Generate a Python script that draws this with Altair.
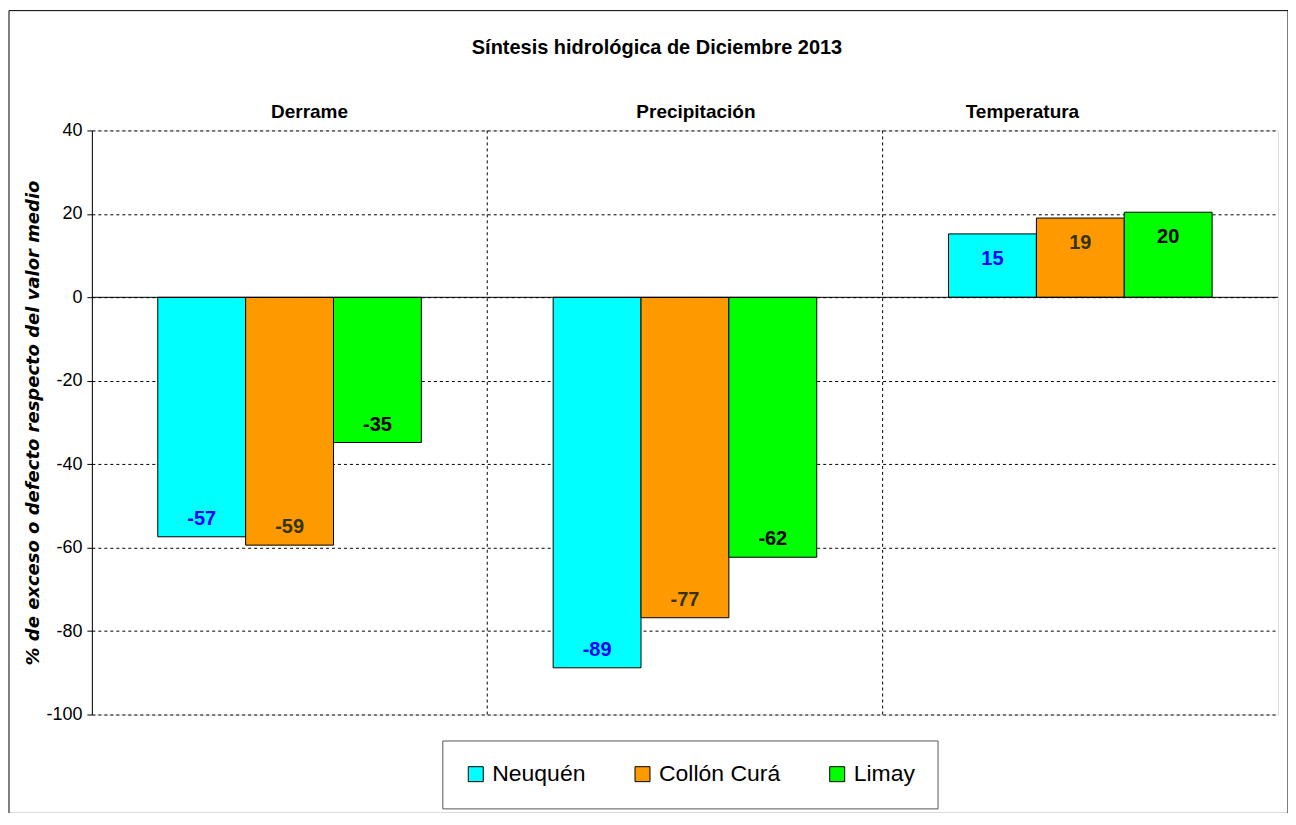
import altair as alt
import pandas as pd

categories = ["Derrame", "Precipitación", "Temperatura"]
series = ["Neuquén", "Collón Curá", "Limay"]
neuquen = [-57.4, -88.8, 15.2]
collon_cura = [-59.4, -76.8, 19.0]
limay = [-34.8, -62.3, 20.4]
y_ticks = [-100, -80, -60, -40, -20, 0, 20, 40]
chart_title = "Síntesis hidrológica de Diciembre 2013"
y_title = "% de exceso o defecto respecto del valor medio"

bar_colors = ["#00FFFF", "#FF9900", "#00FF00"]
label_colors = ["#0000FF", "#333300", "#000000"]
cat_label_dx = [20, 11, -58]

FONT = "Liberation Sans"

rows = []
for s, vals in zip(series, [neuquen, collon_cura, limay]):
    for c, v in zip(categories, vals):
        rows.append({"cat": c, "serie": s, "valor": v})
df = pd.DataFrame(rows)
cat_df = pd.DataFrame({"cat": categories})

xscale = alt.Scale(domain=categories, paddingInner=0, paddingOuter=0)


def xenc(**kw):
    return alt.X("cat:N", sort=categories, scale=xscale, axis=None, **kw)


xo = alt.XOffset("serie:N", sort=series,
                 scale=alt.Scale(domain=series, paddingInner=0, paddingOuter=0.75))
yscale = alt.Scale(domain=[-100, 40], nice=False, zero=False)

y_axis = alt.Axis(
    values=y_ticks, labelExpr="'' + datum.value",
    title=y_title,
    titleFont="DejaVu Sans", titleFontSize=18, titleFontWeight="bold", titleFontStyle="italic",
    titleColor="black", titlePadding=3,
    labelFont=FONT, labelFontSize=18, labelColor="black", labelPadding=5,
    domainColor="black", tickColor="black", tickSize=5,
    grid=True, gridDash=[3, 3], gridColor="black", gridWidth=1,
)

one = pd.DataFrame({"a": [0]})

frame = alt.Chart(one).mark_rect(
    fill=None, stroke="black", strokeWidth=1
).encode(
    x=alt.value(-83), x2=alt.value(1198), y=alt.value(-120), y2=alt.value(684)
)

title_mark = alt.Chart(one).mark_text(
    font=FONT, fontSize=20, fontWeight="bold", color="black",
    align="center", baseline="middle"
).encode(x=alt.value(566), y=alt.value(-83), text=alt.value(chart_title))

vgrid = alt.Chart(pd.DataFrame({"cat": categories[1:]})).mark_rule(
    color="black", strokeDash=[3, 3], strokeWidth=1
).encode(x=xenc(bandPosition=0))

bars = alt.Chart(df).mark_bar(stroke="black", strokeWidth=1, opacity=1).encode(
    x=xenc(),
    xOffset=xo,
    y=alt.Y("valor:Q", scale=yscale, axis=y_axis),
    color=alt.Color(
        "serie:N", sort=series,
        scale=alt.Scale(domain=series, range=bar_colors),
        legend=alt.Legend(
            title=None, orient="none", legendX=351, legendY=611,
            direction="horizontal", columns=3, columnPadding=45,
            symbolType="square", symbolSize=225, symbolStrokeColor="black",
            symbolStrokeWidth=1, symbolOpacity=1,
            labelFont=FONT, labelFontSize=23, labelColor="black", labelOffset=5,
            strokeColor="#555555", fillColor="white", padding=22,
        ),
    ),
)

zero = alt.Chart(one).mark_rule(color="black", strokeWidth=1).encode(
    y=alt.datum(0, scale=yscale)
)


def value_labels(cond, dy):
    return alt.Chart(df).transform_filter(cond).transform_calculate(
        etiqueta="'' + round(datum.valor)"
    ).mark_text(
        font=FONT, fontSize=20, fontWeight="bold", baseline="middle", align="center", dy=dy
    ).encode(
        x=xenc(),
        xOffset=xo,
        y=alt.Y("valor:Q", scale=yscale),
        text="etiqueta:N",
        color=alt.Color("serie:N", sort=series,
                        scale=alt.Scale(domain=series, range=label_colors), legend=None),
    )


neg_labels = value_labels("datum.valor < 0", -18)
pos_labels = value_labels("datum.valor >= 0", 25)

cat_labels = []
for c, dx in zip(categories, cat_label_dx):
    cat_labels.append(
        alt.Chart(cat_df).transform_filter(alt.datum.cat == c).mark_text(
            font=FONT, fontSize=19, fontWeight="bold", color="black",
            baseline="middle", align="center", dx=dx
        ).encode(x=xenc(), y=alt.value(-18), text="cat:N")
    )

chart = alt.layer(
    frame, title_mark, vgrid, bars, zero, neg_labels, pos_labels, *cat_labels
).resolve_scale(color="independent").properties(
    width=1188, height=585,
    autosize=alt.AutoSizeParams(type="none"),
    padding={"left": 84, "top": 122, "right": 10, "bottom": 98},
).configure_view(stroke="#808080", strokeWidth=1).configure(background="white")

chart.save("out.html", embed_options={"renderer": "svg", "actions": False})
